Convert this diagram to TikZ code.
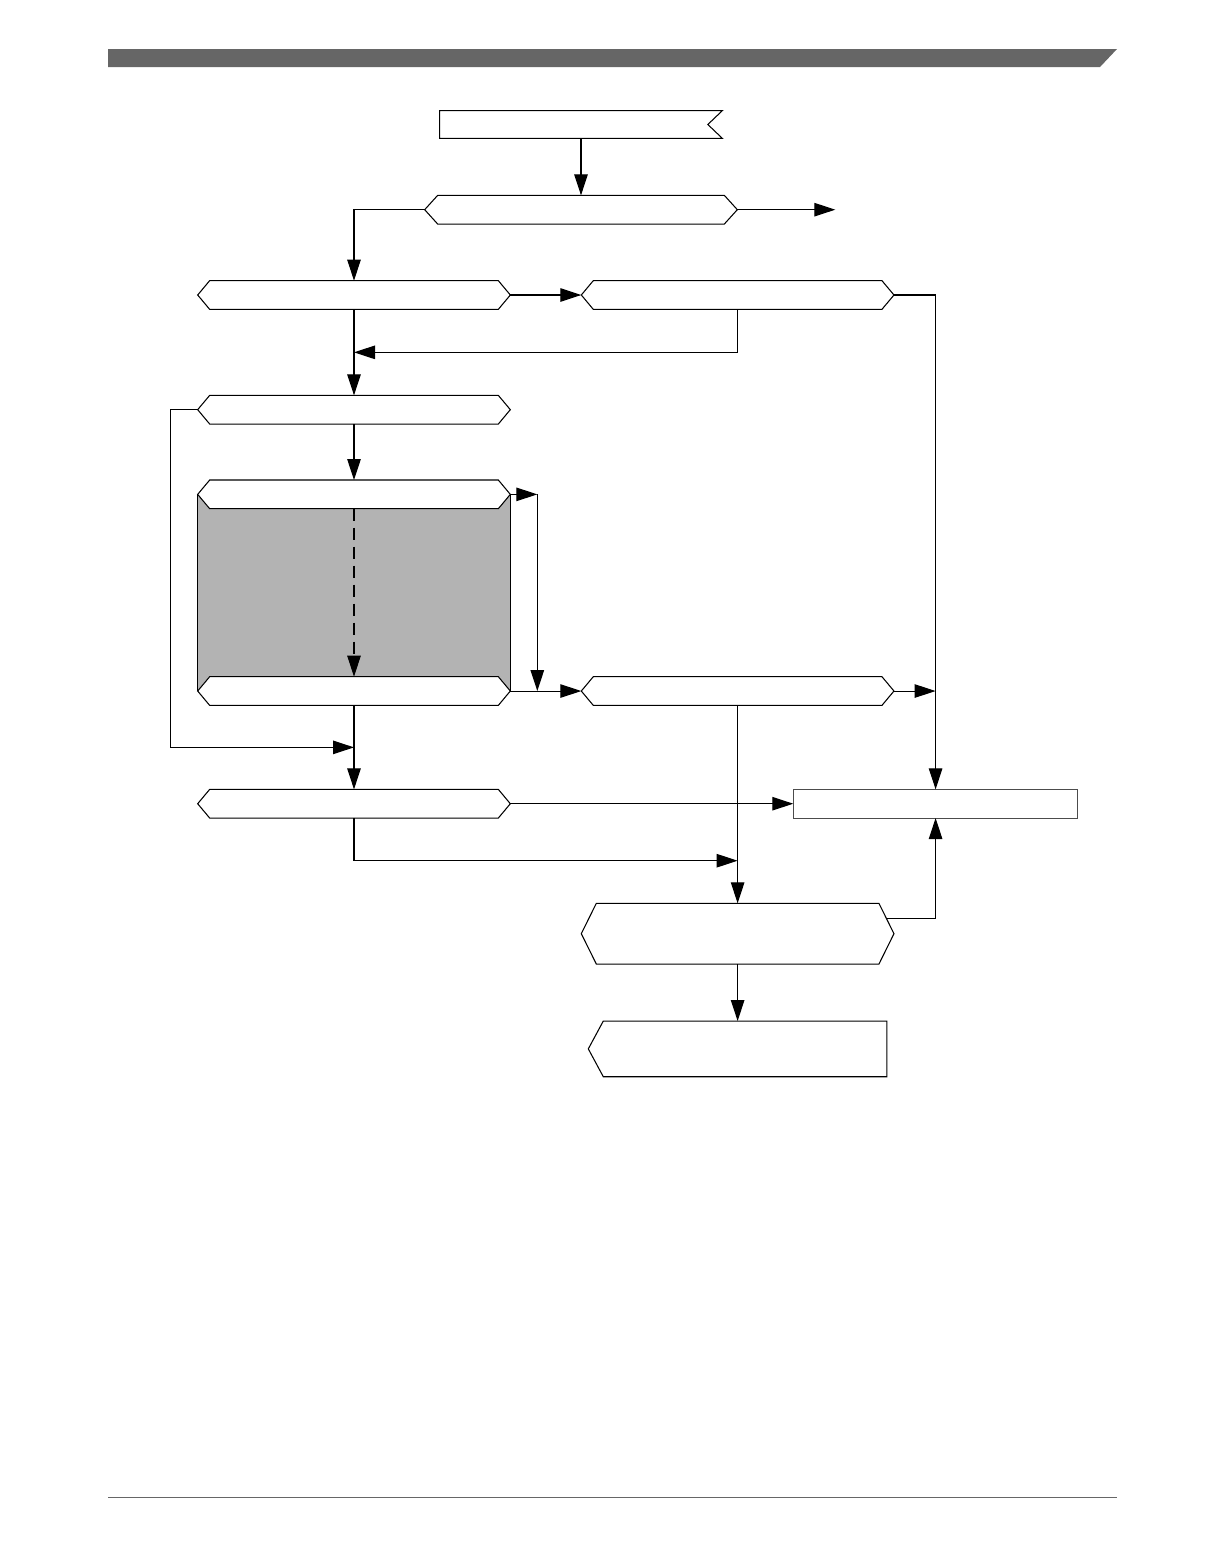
\documentclass[tikz,border=0pt]{standalone}
\usepackage{tikz}
\usetikzlibrary{arrows.meta, positioning, calc, backgrounds}
\definecolor{barGray}{HTML}{666666}
\definecolor{loopGray}{HTML}{B3B3B3}
\tikzstyle{arrow} = [line width=0.6pt, -{Triangle[length=0.42cm,width=0.27cm]}]
\tikzstyle{outline} = [line width=0.6pt, draw=black, fill=white]
\tikzset{
  box/.style 2 args={rectangle, inner sep=0pt, minimum width=#1, minimum height=#2},
  % pointed on both sides
  hexa/.style={append after command={\pgfextra{\draw[outline] (\tikzlastnode.west)
    -- ([xshift=#1]\tikzlastnode.north west) -- ([xshift=-#1]\tikzlastnode.north east)
    -- (\tikzlastnode.east) -- ([xshift=-#1]\tikzlastnode.south east)
    -- ([xshift=#1]\tikzlastnode.south west) -- cycle;}}},
  % pointed on the left only
  lpoint/.style={append after command={\pgfextra{\draw[outline] (\tikzlastnode.west)
    -- ([xshift=#1]\tikzlastnode.north west) -- (\tikzlastnode.north east)
    -- (\tikzlastnode.south east) -- ([xshift=#1]\tikzlastnode.south west) -- cycle;}}},
  % notched on the right
  flag/.style={append after command={\pgfextra{\draw[outline] (\tikzlastnode.north west)
    -- (\tikzlastnode.north east) -- ([xshift=-#1]\tikzlastnode.east)
    -- (\tikzlastnode.south east) -- (\tikzlastnode.south west) -- cycle;}}},
  plain/.style={append after command={\pgfextra{\draw[outline, draw=black!70]
    (\tikzlastnode.north west) rectangle (\tikzlastnode.south east);}}},
}

\begin{document}
\begin{tikzpicture}[x=0.02cm, y=-0.02cm]
  \useasboundingbox (0,0) rectangle (1224,1555);
  % page header and footer
  \fill[barGray] (108,49) -- (1117,49) -- (1100,67) -- (108,67) -- cycle;
  \draw[black!60, line width=0.5pt] (108,1497) -- (1117,1497);

  \node (start) [box={5.64cm}{0.54cm}, flag=0.29cm] at (581,124.5) {};
  \node (chk)   [box={6.24cm}{0.56cm}, hexa=0.26cm, below=1.14cm of start] {};
  \node (sel)   [box={6.24cm}{0.56cm}, hexa=0.24cm] at (354,295) {};
  \node (alt)   [box={6.24cm}{0.56cm}, hexa=0.24cm, right=1.42cm of sel] {};
  \node (init)  [box={6.24cm}{0.56cm}, hexa=0.24cm, below=1.72cm of sel] {};
  \node (ltop)  [box={6.24cm}{0.56cm}, hexa=0.24cm, below=1.12cm of init] {};
  \node (lbot)  [box={6.24cm}{0.56cm}, hexa=0.24cm, below=3.36cm of ltop] {};
  \node (brk)   [box={6.24cm}{0.56cm}, hexa=0.24cm, right=1.42cm of lbot] {};
  \node (fin)   [box={6.24cm}{0.56cm}, hexa=0.24cm, below=1.68cm of lbot] {};
  \node (err)   [box={5.68cm}{0.56cm}, plain, right=5.66cm of fin] {};
  \node (done)  [box={6.24cm}{1.2cm}, hexa=0.3cm, below=3.96cm of brk] {};
  \node (ret)   [box={5.96cm}{1.1cm}, lpoint=0.3cm, below=1.14cm of done] {};

  % shaded loop body
  \begin{scope}[on background layer]
    \fill[loopGray] (ltop.west) rectangle (lbot.east);
    \draw[line width=0.6pt] (ltop.west) -- (lbot.west) (ltop.east) -- (lbot.east);
  \end{scope}

  \coordinate[right=1.96cm of chk.east] (exit);
  \coordinate (m1) at ($(sel.south)!0.5!(init.north)$);
  \coordinate (m2) at ($(lbot.south)!0.5!(fin.north)$);
  \coordinate (m4) at ($(fin.south -| done.north)!0.5!(done.north)$);

  \draw[arrow] (start) -- (chk);
  \draw[arrow] (chk.east) -- (exit);
  \draw[arrow] (chk.west) -| (sel.north);
  \draw[arrow] (sel) -- (alt);
  \draw[arrow] (alt.south) |- (m1);
  \draw[arrow] (alt.east) -| (err.north);
  \draw[arrow] (sel) -- (init);
  \draw[arrow] (init.west) -- ++(-0.54cm,0) |- (m2);
  \draw[arrow] (init) -- (ltop);
  \draw[arrow, dash pattern=on 0.24cm off 0.14cm] (ltop.south) -- (lbot.north);
  \draw[arrow] (ltop.east) -- ++(0.54cm,0) coordinate (m3);
  \draw[arrow] (m3) -- (m3 |- lbot.east);
  \draw[arrow] (lbot) -- (brk);
  \draw[arrow] (brk.east) -- (brk.east -| err.north);
  \draw[arrow] (brk.south) -- (done.north);
  \draw[arrow] (lbot) -- (fin);
  \draw[arrow] (fin) -- (err);
  \draw[arrow] (fin.south) |- (m4);
  \draw[arrow] ([xshift=-0.15cm,yshift=0.3cm]done.east) -| (err.south);
  \draw[arrow] (done) -- (ret);
\end{tikzpicture}
\end{document}
